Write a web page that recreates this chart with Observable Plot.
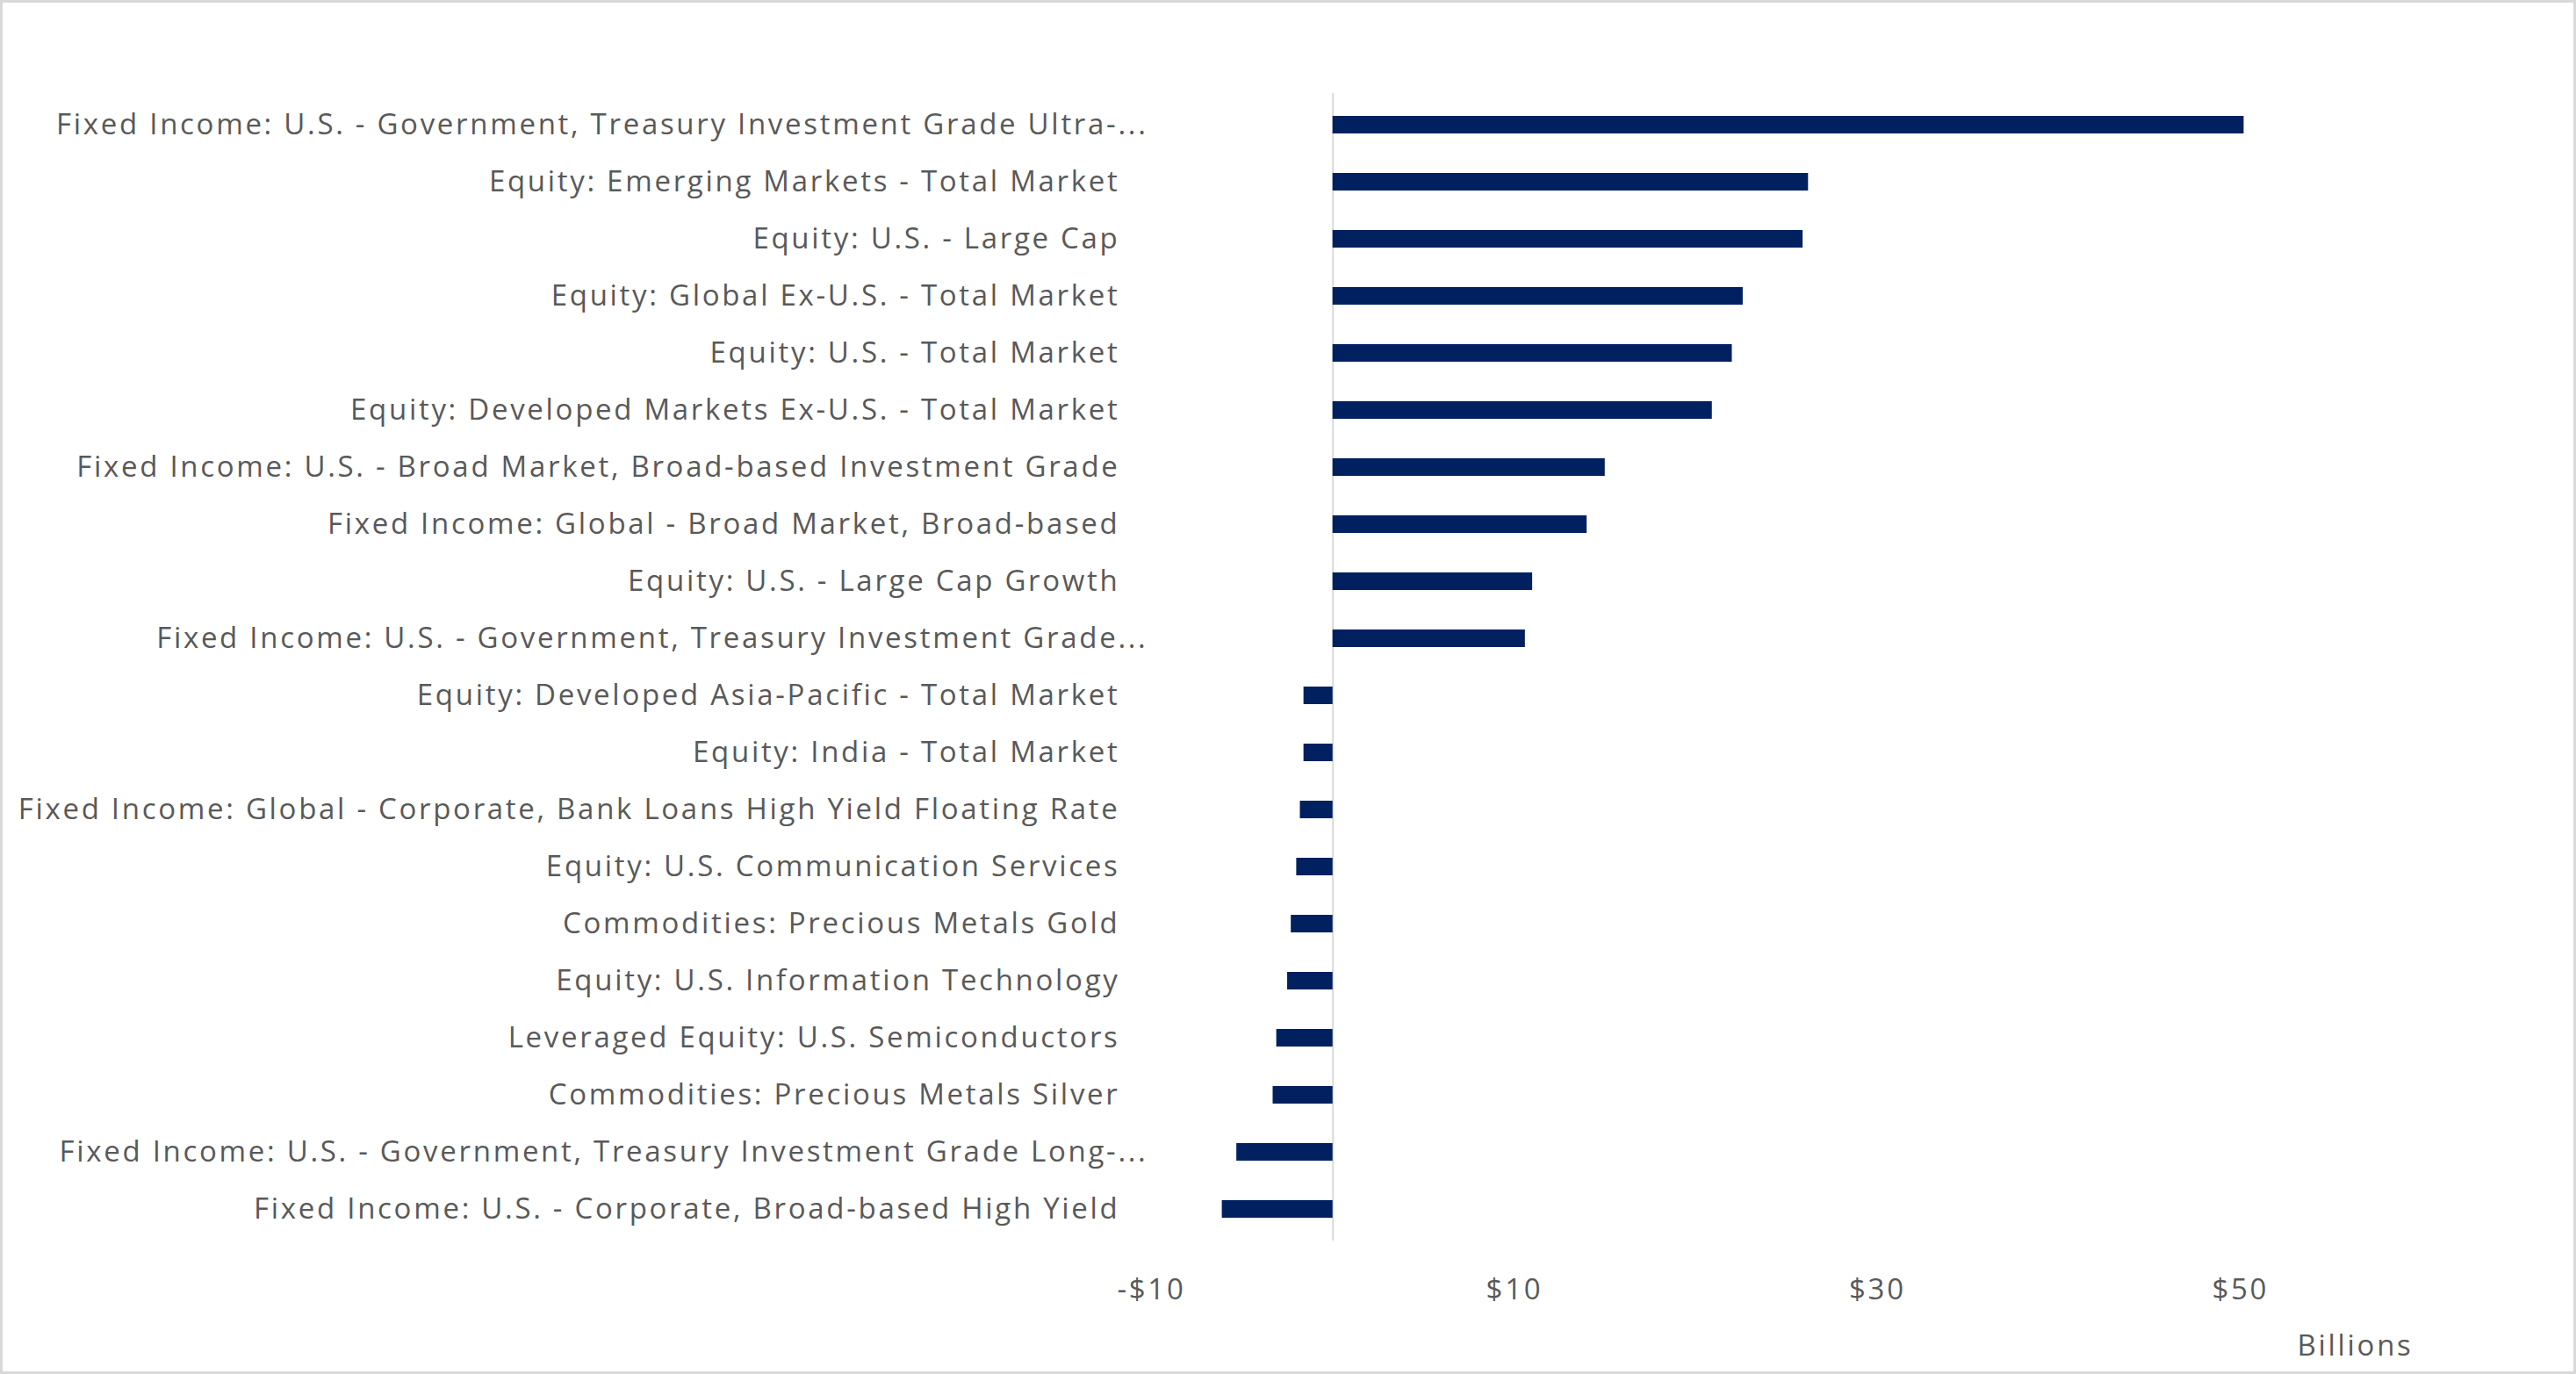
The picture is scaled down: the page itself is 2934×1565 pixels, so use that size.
<!DOCTYPE html>
<html>
<head>
<meta charset="utf-8">
<script src="https://cdn.jsdelivr.net/npm/d3@7"></script>
<script src="https://cdn.jsdelivr.net/npm/@observablehq/plot@0.6"></script>
<style>
  html, body { margin: 0; padding: 0; background: #fff; }
  #wrap { position: relative; width: 2934px; height: 1565px; overflow: hidden; }
  #border { position: absolute; left: 0; top: 0; width: 2934px; height: 1565px; box-sizing: border-box; border: 3px solid #d9d9d9; pointer-events: none; }
</style>
</head>
<body>
<div id="wrap"><div id="border"></div></div>
<script>
const categories = [
  "Fixed Income: U.S. - Government, Treasury Investment Grade Ultra-...",
  "Equity: Emerging Markets - Total Market",
  "Equity: U.S. - Large Cap",
  "Equity: Global Ex-U.S. - Total Market",
  "Equity: U.S. - Total Market",
  "Equity: Developed Markets Ex-U.S. - Total Market",
  "Fixed Income: U.S. - Broad Market, Broad-based Investment Grade",
  "Fixed Income: Global - Broad Market, Broad-based",
  "Equity: U.S. - Large Cap Growth",
  "Fixed Income: U.S. - Government, Treasury Investment Grade...",
  "Equity: Developed Asia-Pacific - Total Market",
  "Equity: India - Total Market",
  "Fixed Income: Global - Corporate, Bank Loans High Yield Floating Rate",
  "Equity: U.S. Communication Services",
  "Commodities: Precious Metals Gold",
  "Equity: U.S. Information Technology",
  "Leveraged Equity: U.S. Semiconductors",
  "Commodities: Precious Metals Silver",
  "Fixed Income: U.S. - Government, Treasury Investment Grade Long-...",
  "Fixed Income: U.S. - Corporate, Broad-based High Yield"
];
const values = [50.2, 26.2, 25.9, 22.6, 22.0, 20.9, 15.0, 14.0, 11.0, 10.6,
                -1.6, -1.6, -1.8, -2.0, -2.3, -2.5, -3.1, -3.3, -5.3, -6.1];
const xTicks = [-10, 10, 30, 50];
const xTickLabels = ["-$10", "$10", "$30", "$50"];
const axisTitle = ["Billions"];

const data = categories.map((c, i) => ({category: c, value: values[i]}));

const chart = Plot.plot({
  width: 2934,
  height: 1565,
  marginLeft: 1311,
  marginRight: 176,
  marginTop: 106,
  marginBottom: 152,
  style: {fontFamily: "'Open Sans', sans-serif", fontSize: "33px", letterSpacing: "2.7px", color: "#595959", background: "transparent", overflow: "visible"},
  x: {domain: [-10, 60], ticks: xTicks, tickFormat: d => xTickLabels[xTicks.indexOf(d)], tickSize: 0, tickPadding: 43, label: null},
  y: {domain: categories, paddingInner: 0.69, paddingOuter: 0.345, axis: null},
  marks: [
    Plot.ruleX([0], {stroke: "#d9d9d9", strokeWidth: 2}),
    Plot.barX(data, {x: "value", y: "category", fill: "#002060"}),
    Plot.text(data, {filter: d => !d.category.endsWith("..."), y: "category", text: "category", frameAnchor: "left", textAnchor: "end", dx: -36}),
    Plot.text(data, {filter: d => d.category.endsWith("..."), y: "category", text: "category", frameAnchor: "left", textAnchor: "end", dx: -4}),
    Plot.text(axisTitle, {text: d => d, frameAnchor: "bottom-right", textAnchor: "end", lineAnchor: "middle", dy: 120, dx: -10})
  ]
});
document.getElementById("wrap").prepend(chart);
</script>
</body>
</html>
